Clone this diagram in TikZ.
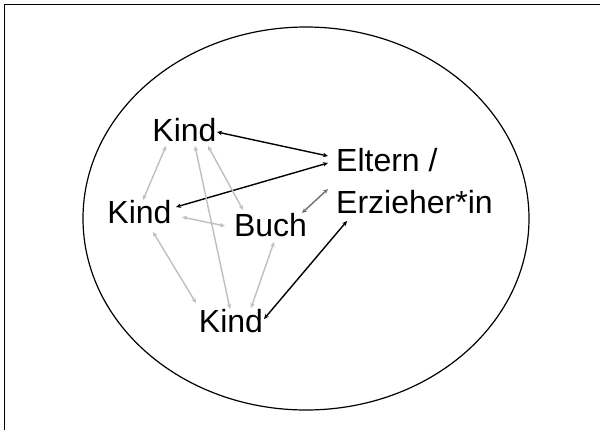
\documentclass[tikz,border=0pt]{standalone}
\usepackage{fontspec}
\setmainfont{Liberation Sans}
\usetikzlibrary{arrows.meta,calc}
\definecolor{lgray}{HTML}{BFBFBF}
\definecolor{dgray}{HTML}{707070}
\tikzset{
  lbl/.style={inner sep=0pt, anchor=base, font=\fontsize{32}{38}\selectfont},
  lblw/.style={lbl, anchor=base west},
  link/.style={line width=1.4pt, {Stealth[length=5pt,width=4.5pt]}-{Stealth[length=5pt,width=4.5pt]}},
  blk/.style={link, black},
  mid/.style={link, dgray},
  lite/.style={link, lgray}
}
\begin{document}
\begin{tikzpicture}[x=1pt,y=-1pt]
\useasboundingbox (0,0) rectangle (600,429);
\draw[line width=1.5pt] (4.5,430) -- (4.5,4.5) -- (601,4.5);
\draw[line width=1.2pt] (306,218.5) ellipse [x radius=223, y radius=191.5];
\node[lbl] (k1) at (184.5,141) {Kind};
\node[lbl] (k2) at (139.5,223) {Kind};
\node[lbl] (bu) at (270.5,236) {Buch};
\node[lbl] (k3) at (231,332) {Kind};
\node[lblw] (el) at (336,171) {Eltern /};
\node[lblw] (er) at (336,213) {Erzieher*in};
% black
\draw[blk] ($(k1.base)+(32.5,-9)$) -- ($(el.base west)+(-8,-15)$);
\draw[blk] ($(k2.base)+(36.5,-16)$) -- ($(el.base west)+(-8,-8)$);
\draw[blk] ($(k3.base)+(33,-13)$) -- ($(er.base west)+(11,8)$);
% dark gray
\draw[mid] ($(bu.base)+(31.5,-23)$) -- ($(er.base west)+(-8,-24)$);
% light gray
\draw[lite] ($(k1.base)+(-18.5,5)$) -- ($(k2.base)+(3.5,-23)$);
\draw[lite] ($(k1.base)+(10.5,5)$) -- ($(k3.base)+(-1,-23)$);
\draw[lite] ($(k1.base)+(23.5,5)$) -- ($(bu.base)+(-27.5,-26)$);
\draw[lite] ($(k2.base)+(42.5,-6)$) -- ($(bu.base)+(-45.5,-10)$);
\draw[lite] ($(k2.base)+(13.5,9)$) -- ($(k3.base)+(-35,-29)$);
\draw[lite] ($(bu.base)+(3.5,6)$) -- ($(k3.base)+(20,-24)$);
\end{tikzpicture}
\end{document}
